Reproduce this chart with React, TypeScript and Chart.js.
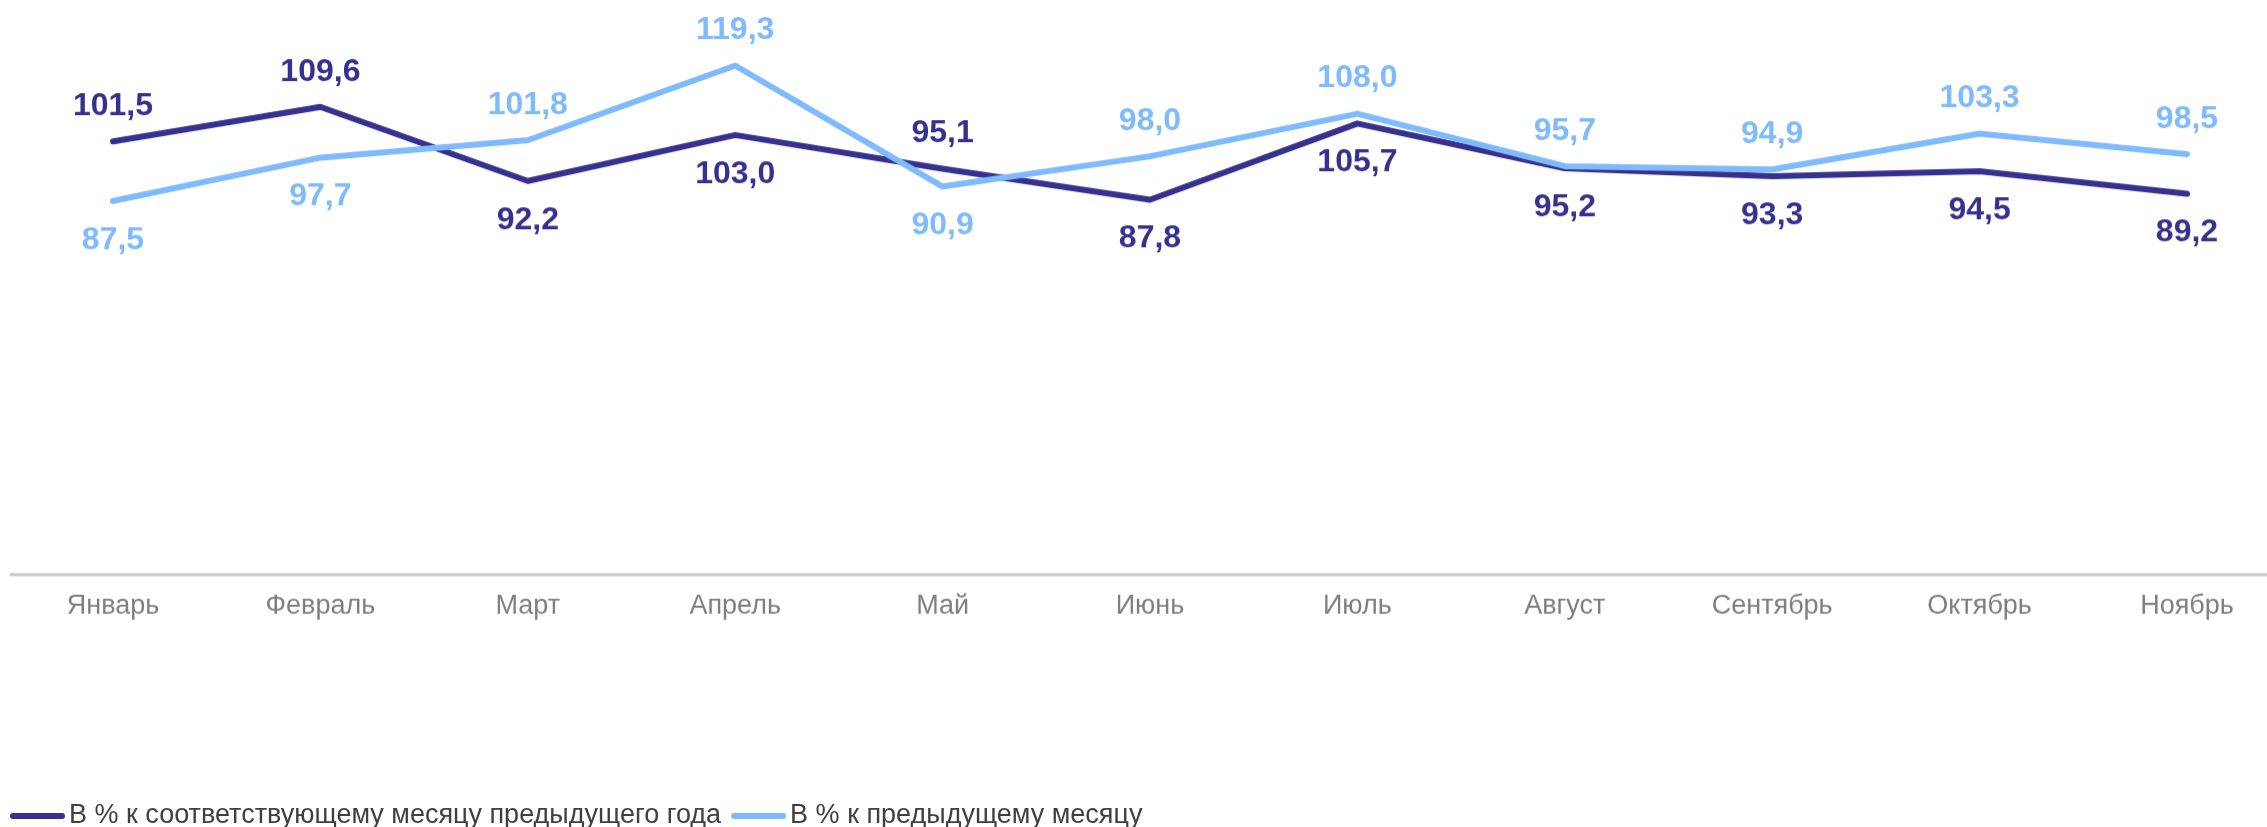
import React, { useEffect, useRef } from 'react';
import { Chart, registerables } from 'chart.js';

Chart.register(...registerables);

const months = ['Январь', 'Февраль', 'Март', 'Апрель', 'Май', 'Июнь', 'Июль', 'Август', 'Сентябрь', 'Октябрь', 'Ноябрь'];
const yearOverYear = [101.5, 109.6, 92.2, 103.0, 95.1, 87.8, 105.7, 95.2, 93.3, 94.5, 89.2];
const monthOverMonth = [87.5, 97.7, 101.8, 119.3, 90.9, 98.0, 108.0, 95.7, 94.9, 103.3, 98.5];
const seriesNames = ['В % к соответствующему месяцу предыдущего года', 'В % к предыдущему месяцу'];

const darkColor = '#36318f';
const lightColor = '#7fbbfc';
const FONT = '"Liberation Sans", Arial, sans-serif';

function makeLegendLine(color: string) {
  const c = document.createElement('canvas');
  c.width = 55;
  c.height = 8;
  const g = c.getContext('2d')!;
  g.strokeStyle = color;
  g.lineWidth = 6;
  g.lineCap = 'round';
  g.beginPath();
  g.moveTo(3, 4);
  g.lineTo(52, 4);
  g.stroke();
  return c;
}

const valueLabels = {
  id: 'valueLabels',
  afterDatasetsDraw(chart: any) {
    const ctx = chart.ctx;
    const ds = chart.data.datasets;
    ctx.save();
    ctx.font = `bold 32px ${FONT}`;
    ctx.textAlign = 'center';
    ctx.textBaseline = 'middle';
    ds.forEach((d: any, i: number) => {
      const meta = chart.getDatasetMeta(i);
      const other = ds[1 - i].data as number[];
      meta.data.forEach((pt: any, j: number) => {
        const v = d.data[j] as number;
        const above = v >= other[j];
        ctx.fillStyle = d.borderColor;
        ctx.fillText(v.toFixed(1).replace('.', ','), pt.x, pt.y + (above ? -35 : 39));
      });
    });
    ctx.restore();
  },
};

const baseline = {
  id: 'baseline',
  beforeDatasetsDraw(chart: any) {
    const ctx = chart.ctx;
    const y = chart.scales.y.getPixelForValue(0);
    ctx.save();
    ctx.strokeStyle = '#c6c6c6';
    ctx.lineWidth = 3;
    ctx.beginPath();
    ctx.moveTo(10, y + 1);
    ctx.lineTo(chart.width, y + 1);
    ctx.stroke();
    ctx.restore();
  },
};

export default function App() {
  const ref = useRef<HTMLCanvasElement>(null);

  useEffect(() => {
    if (!ref.current) return;
    const images = [makeLegendLine(darkColor), makeLegendLine(lightColor)];
    const chart = new Chart(ref.current, {
      type: 'line',
      data: {
        labels: months,
        datasets: [
          {
            label: seriesNames[0],
            data: yearOverYear,
            borderColor: darkColor,
            backgroundColor: darkColor,
            borderWidth: 6,
            pointRadius: 0,
            borderJoinStyle: 'round',
            borderCapStyle: 'round',
            order: 1,
          },
          {
            label: seriesNames[1],
            data: monthOverMonth,
            borderColor: lightColor,
            backgroundColor: lightColor,
            borderWidth: 6,
            pointRadius: 0,
            borderJoinStyle: 'round',
            borderCapStyle: 'round',
            order: 0,
          },
        ],
      },
      options: {
        animation: false,
        responsive: true,
        maintainAspectRatio: false,
        layout: { padding: { top: 20, right: 80, left: 0, bottom: 0 } },
        plugins: {
          tooltip: { enabled: false },
          legend: {
            position: 'bottom',
            align: 'start',
            labels: {
              usePointStyle: true,
              pointStyleWidth: 36,
              boxHeight: 6,
              padding: 19.5,
              color: '#404040',
              font: { family: FONT, size: 27 },
              sort: (a: any, b: any) => a.datasetIndex - b.datasetIndex,
              generateLabels: (chart: any) => {
                const items = Chart.defaults.plugins.legend.labels.generateLabels(chart);
                return items.map((it: any) => ({ ...it, pointStyle: images[it.datasetIndex] }));
              },
            },
          },
        },
        scales: {
          x: {
            offset: false,
            grid: { display: false, drawTicks: false },
            border: { display: false },
            ticks: {
              color: '#7f7f7f',
              padding: 16,
              maxRotation: 0,
              autoSkip: false,
              font: { family: FONT, size: 27 },
            },
            afterFit: (scale: any) => {
              scale.height = 209;
            },
          },
          y: {
            min: 0,
            max: 130,
            grid: { display: false },
            border: { display: false },
            ticks: { display: false },
            afterFit: (scale: any) => {
              scale.width = 113;
            },
          },
        },
      },
      plugins: [baseline, valueLabels],
    });
    return () => chart.destroy();
  }, []);

  return (
    <div style={{ position: 'absolute', left: 0, top: 0, width: 2267, height: 827, overflow: 'hidden', background: '#fff' }}>
      <div style={{ position: 'relative', width: 2267, height: 838.5 }}>
        <canvas ref={ref} />
      </div>
    </div>
  );
}
